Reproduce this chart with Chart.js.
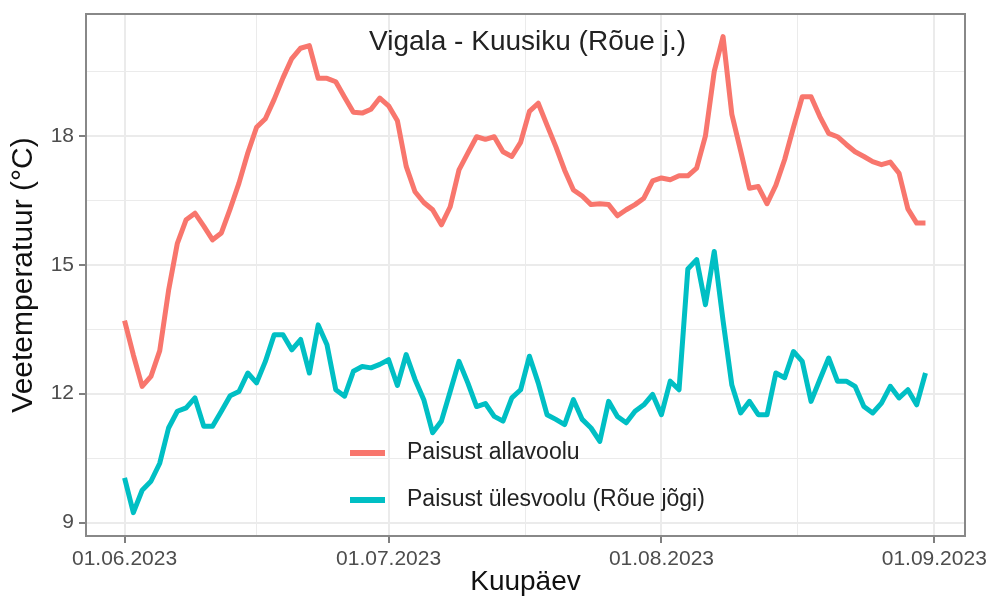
<!DOCTYPE html>
<html>
<head>
<meta charset="utf-8">
<script src="https://cdn.jsdelivr.net/npm/chart.js@4.4.0/dist/chart.umd.min.js"></script>
<style>
  body { margin: 0; background: #fff; }
</style>
</head>
<body>
<canvas id="chart" width="989" height="599"></canvas>
<script>
// daily mean water temperature, 01.06.2023 - 31.08.2023
const allavoolu = [
  13.7, 12.9, 12.17, 12.4, 13.0, 14.4, 15.5, 16.05, 16.2, 15.9,
  15.58, 15.74, 16.3, 16.9, 17.6, 18.2, 18.4, 18.85, 19.35, 19.8,
  20.04, 20.1, 19.34, 19.34, 19.26, 18.9, 18.55, 18.53, 18.62, 18.88,
  18.7, 18.35, 17.29, 16.7, 16.45, 16.28, 15.93, 16.35, 17.21, 17.6,
  17.98, 17.92, 17.98, 17.63, 17.52, 17.85, 18.57, 18.76, 18.25, 17.75,
  17.2, 16.74, 16.6, 16.4, 16.42, 16.4, 16.14, 16.28, 16.4, 16.55,
  16.95, 17.02, 16.98, 17.07, 17.07, 17.25, 18.0, 19.5, 20.31, 18.5,
  17.65, 16.78, 16.82, 16.42, 16.85, 17.45, 18.2, 18.91, 18.91, 18.45,
  18.06, 17.98, 17.8, 17.63, 17.52, 17.4, 17.33, 17.39, 17.13, 16.3,
  15.97, 15.97,
];
const ulesvoolu = [
  10.04, 9.23, 9.75, 9.96, 10.38, 11.2, 11.59, 11.67, 11.9, 11.24,
  11.24, 11.59, 11.95, 12.05, 12.48, 12.25, 12.75, 13.37, 13.37, 13.02,
  13.26, 12.48, 13.6, 13.14, 12.09, 11.94, 12.52, 12.63, 12.6, 12.68,
  12.79, 12.19, 12.91, 12.33, 11.86, 11.09, 11.36, 12.05, 12.75, 12.25,
  11.7, 11.77, 11.47, 11.36, 11.9, 12.09, 12.87, 12.25, 11.51, 11.4,
  11.28, 11.86, 11.4, 11.2, 10.89, 11.82, 11.47, 11.32, 11.59, 11.74,
  11.98, 11.51, 12.29, 12.09, 14.9, 15.12, 14.07, 15.31, 13.7, 12.2,
  11.55, 11.82, 11.51, 11.51, 12.48, 12.37, 12.98, 12.75, 11.82, 12.33,
  12.83, 12.29, 12.29, 12.17, 11.7, 11.55, 11.78, 12.17, 11.9, 12.09,
  11.74, 12.48,
];
const days = allavoolu.map((_, i) => i); // day 0 = 01.06.2023

const seriesLabels = ["Paisust allavoolu", "Paisust ülesvoolu (Rõue jõgi)"];
const xTicks = [0, 30, 61, 92];
const xTickLabels = ["01.06.2023", "01.07.2023", "01.08.2023", "01.09.2023"];
const xMinor = [15, 45.5, 76.5];
const yTicks = [9, 12, 15, 18];
const yMinor = [10.5, 13.5, 16.5, 19.5];
const chartTitle = "Vigala - Kuusiku (Rõue j.)";

const fontFamily = "'Liberation Sans', Arial, sans-serif";
Chart.defaults.font.family = fontFamily;

const toPoints = (values) => values.map((v, i) => ({ x: days[i], y: v }));

const overlay = {
  id: "overlay",
  afterDatasetsDraw: (chart) => {
    const { ctx, chartArea: a } = chart;
    ctx.save();

    ctx.fillStyle = "#222";
    ctx.font = "28px " + fontFamily;
    ctx.textAlign = "center";
    ctx.textBaseline = "alphabetic";
    ctx.fillText(chartTitle, (a.left + a.right) / 2 + 2, a.top + 36);

    chart.data.datasets.forEach((ds, i) => {
      const y = a.top + 439 + i * 47;
      ctx.strokeStyle = ds.borderColor;
      ctx.lineWidth = 6;
      ctx.beginPath();
      ctx.moveTo(a.left + 264, y);
      ctx.lineTo(a.left + 299, y);
      ctx.stroke();
      ctx.fillStyle = "#222";
      ctx.font = "23px " + fontFamily;
      ctx.textAlign = "left";
      ctx.textBaseline = "middle";
      ctx.fillText(ds.label, a.left + 321, y);
    });

    ctx.strokeStyle = "#888";
    ctx.lineWidth = 2;
    ctx.strokeRect(a.left, a.top, a.right - a.left, a.bottom - a.top);
    ctx.restore();
  },
};

const isMajor = (list, ctx) => ctx.tick && list.includes(ctx.tick.value);

const config = {
  type: "line",
  data: {
    datasets: [
      {
        label: seriesLabels[0],
        data: toPoints(allavoolu),
        borderColor: "#F8766D",
        borderWidth: 5,
        borderJoinStyle: "round",
        pointRadius: 0,
        tension: 0,
      },
      {
        label: seriesLabels[1],
        data: toPoints(ulesvoolu),
        borderColor: "#00BFC4",
        borderWidth: 5,
        borderJoinStyle: "round",
        pointRadius: 0,
        tension: 0,
      },
    ],
  },
  options: {
    responsive: false,
    animation: false,
    devicePixelRatio: 1,
    layout: {
      padding: { top: 14, right: 24, bottom: 0, left: 0 },
    },
    scales: {
      x: {
        type: "linear",
        min: -4.38,
        max: 95.49,
        afterBuildTicks: (scale) => {
          scale.ticks = [...xTicks, ...xMinor]
            .sort((p, q) => p - q)
            .map((v) => ({ value: v }));
        },
        afterFit: (scale) => {
          scale.height = 63;
          scale.paddingLeft = 0;
          scale.paddingRight = 0;
        },
        border: { display: false },
        grid: {
          color: "#ebebeb",
          lineWidth: (ctx) => (isMajor(xTicks, ctx) ? 2 : 1),
          tickLength: 7,
          tickWidth: 1.5,
          tickColor: (ctx) => (isMajor(xTicks, ctx) ? "#555" : "rgba(0,0,0,0)"),
        },
        ticks: {
          autoSkip: false,
          maxRotation: 0,
          padding: 4,
          color: "#4d4d4d",
          font: { size: 21 },
          callback: (value) => {
            const i = xTicks.indexOf(value);
            return i >= 0 ? xTickLabels[i] : "";
          },
        },
        title: {
          display: true,
          text: "Kuupäev",
          color: "#111",
          font: { size: 28 },
          padding: { top: 0, bottom: 0 },
        },
      },
      y: {
        min: 8.686,
        max: 20.837,
        afterBuildTicks: (scale) => {
          scale.ticks = [...yTicks, ...yMinor]
            .sort((p, q) => p - q)
            .map((v) => ({ value: v }));
        },
        afterFit: (scale) => {
          scale.width = 86;
          scale.paddingTop = 0;
          scale.paddingBottom = 0;
        },
        border: { display: false },
        grid: {
          color: "#ebebeb",
          lineWidth: (ctx) => (isMajor(yTicks, ctx) ? 2 : 1),
          tickLength: 7,
          tickWidth: 1.5,
          tickColor: (ctx) => (isMajor(yTicks, ctx) ? "#555" : "rgba(0,0,0,0)"),
        },
        ticks: {
          padding: 5,
          color: "#4d4d4d",
          font: { size: 21 },
          callback: (value) => (yTicks.includes(value) ? String(value) : ""),
        },
        title: {
          display: true,
          text: "Veetemperatuur (°C)",
          color: "#111",
          font: { size: 30 },
          padding: { top: 6, bottom: 0 },
        },
      },
    },
    plugins: {
      legend: { display: false },
      tooltip: { enabled: false },
    },
  },
  plugins: [overlay],
};

new Chart(document.getElementById("chart"), config);
</script>
</body>
</html>
